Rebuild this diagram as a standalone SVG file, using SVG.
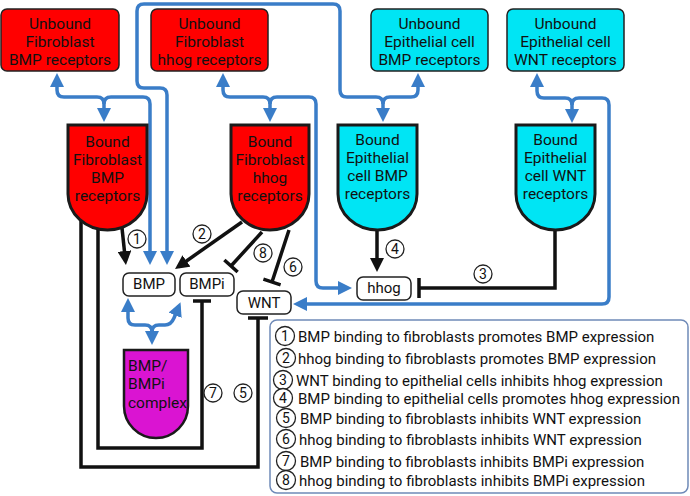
<svg xmlns="http://www.w3.org/2000/svg" width="690" height="496" viewBox="0 0 690 496">
<style>
text{font-family:Roboto,"Liberation Sans",sans-serif;fill:#111;}
.lbl{font-size:15.5px;text-anchor:middle;}
.sm{font-size:15px;text-anchor:middle;}
.leg{font-size:15px;}
.dig{font-size:14px;text-anchor:middle;}
.unb{stroke:#222;stroke-width:1.5;}
.bnd{stroke:#1a1a1a;stroke-width:3;}
.red{fill:#ff0000;}
.cyan{fill:#00e5f4;}
.mol{fill:#fff;stroke:#222;stroke-width:1.5;}
.blue{fill:none;stroke:#3a7dc8;stroke-width:3.5;}
.blk{fill:none;stroke:#111;stroke-width:3.5;}
.circ{fill:#fff;stroke:#222;stroke-width:1.3;}
</style>
<defs>
<marker id="ab" viewBox="0 0 14 14" refX="10" refY="7" markerWidth="14" markerHeight="14" markerUnits="userSpaceOnUse" orient="auto-start-reverse"><path d="M0,0 L14,7 L0,14 z" fill="#3a7dc8"/></marker>
<marker id="ak" viewBox="0 0 14 14" refX="10" refY="7" markerWidth="14" markerHeight="14" markerUnits="userSpaceOnUse" orient="auto"><path d="M0,0 L14,7 L0,14 z" fill="#111"/></marker>
</defs>

<g id="connectors">
<!-- blue binding loops -->
<path class="blue" d="M57,77 V90 Q57,97 64,97 H97 Q104,97 104,104 V118" marker-start="url(#ab)" marker-end="url(#ab)"/>
<path class="blue" d="M104,104 Q104,97 111,97 H143 Q150,97 150,104 V261" marker-end="url(#ab)"/>
<path class="blue" d="M223,77 V90 Q223,97 230,97 H263 Q270,97 270,104 V118" marker-start="url(#ab)" marker-end="url(#ab)"/>
<path class="blue" d="M270,104 Q270,97 277,97 H309 Q316,97 316,104 V281 Q316,288 323,288 H348" marker-end="url(#ab)"/>
<path class="blue" d="M418,77 V90 Q418,97 411,97 H390 Q383,97 383,104 V118" marker-start="url(#ab)" marker-end="url(#ab)"/>
<path class="blue" d="M383,104 Q383,97 376,97 H347 Q340,97 340,90 V11 Q340,4 333,4 H144 Q137,4 137,11 V81 Q137,88 144,88 H160 Q167,88 167,95 V261" marker-end="url(#ab)"/>
<path class="blue" d="M537,77 V91 Q537,98 544,98 H565 Q572,98 572,105 V119" marker-start="url(#ab)" marker-end="url(#ab)"/>
<path class="blue" d="M572,105 Q572,98 579,98 H602 Q609,98 609,105 V297 Q609,304 602,304 H297" marker-end="url(#ab)"/>
<path class="blue" d="M128,302 V318 Q128,325 135,325 H145 Q152,325 152,332 V341" marker-start="url(#ab)" marker-end="url(#ab)"/>
<path class="blue" d="M152,332 Q152,325 159,325 H165 Q171,325 174,318 L179,306" marker-end="url(#ab)"/>
<!-- black regulation -->
<path class="blk" d="M122,228 L125.5,261" marker-end="url(#ak)"/>
<path class="blk" d="M242,222 L178.3,266.7" marker-end="url(#ak)"/>
<path class="blk" d="M377,230 V268" marker-end="url(#ak)"/>
<path class="blk" d="M555,230 V288 H419 M419,278 V298"/>
<path class="blk" d="M262,232 L231,266 M224.35,259.93 L237.65,272.07"/>
<path class="blk" d="M289,230 L272,282 M263.4,279.2 L280.6,284.8"/>
<path class="blk" d="M98,225 V448 H202 V301 M193,301 H211"/>
<path class="blk" d="M81,215 V467 H258 V318 M248,318 H268"/>
<!-- numbered labels -->
<circle class="circ" cx="137" cy="239" r="9"/><text class="dig" x="137" y="244">1</text>
<circle class="circ" cx="202" cy="234" r="9"/><text class="dig" x="202" y="239">2</text>
<circle class="circ" cx="483" cy="274" r="9"/><text class="dig" x="483" y="279">3</text>
<circle class="circ" cx="395" cy="249" r="9"/><text class="dig" x="395" y="254">4</text>
<circle class="circ" cx="243" cy="393" r="9"/><text class="dig" x="243" y="398">5</text>
<circle class="circ" cx="293" cy="267" r="9"/><text class="dig" x="293" y="272">6</text>
<circle class="circ" cx="213" cy="393" r="9"/><text class="dig" x="213" y="398">7</text>
<circle class="circ" cx="263" cy="253" r="9"/><text class="dig" x="263" y="258">8</text>
</g>

<g id="unbound-fib-bmp">
<rect class="unb red" x="1" y="9" width="118" height="62" rx="6"/>
<text class="lbl" x="60" y="29">Unbound</text><text class="lbl" x="60" y="47">Fibroblast</text><text class="lbl" x="60" y="65">BMP receptors</text>
</g>
<g id="unbound-fib-hhog">
<rect class="unb red" x="151" y="9" width="117" height="62" rx="6"/>
<text class="lbl" x="209.5" y="29">Unbound</text><text class="lbl" x="209.5" y="47">Fibroblast</text><text class="lbl" x="209.5" y="65">hhog receptors</text>
</g>
<g id="unbound-epi-bmp">
<rect class="unb cyan" x="371" y="9" width="117" height="62" rx="6"/>
<text class="lbl" x="429.5" y="29">Unbound</text><text class="lbl" x="429.5" y="47">Epithelial cell</text><text class="lbl" x="429.5" y="65">BMP receptors</text>
</g>
<g id="unbound-epi-wnt">
<rect class="unb cyan" x="507" y="9" width="117" height="62" rx="6"/>
<text class="lbl" x="565.5" y="29">Unbound</text><text class="lbl" x="565.5" y="47">Epithelial cell</text><text class="lbl" x="565.5" y="65">WNT receptors</text>
</g>

<g id="bound-fib-bmp">
<path class="bnd red" d="M68,125 H147 V194 A39.5,36 0 0 1 68,194 Z"/>
<text class="lbl" x="107.5" y="147">Bound</text><text class="lbl" x="107.5" y="165">Fibroblast</text><text class="lbl" x="107.5" y="183">BMP</text><text class="lbl" x="107.5" y="201">receptors</text>
</g>
<g id="bound-fib-hhog">
<path class="bnd red" d="M231,125 H309 V194 A39,36 0 0 1 231,194 Z"/>
<text class="lbl" x="270" y="147">Bound</text><text class="lbl" x="270" y="165">Fibroblast</text><text class="lbl" x="270" y="183">hhog</text><text class="lbl" x="270" y="201">receptors</text>
</g>
<g id="bound-epi-bmp">
<path class="bnd cyan" d="M338,125 H417 V194 A39.5,36 0 0 1 338,194 Z"/>
<text class="lbl" x="377.5" y="145">Bound</text><text class="lbl" x="377.5" y="163">Epithelial</text><text class="lbl" x="377.5" y="181">cell BMP</text><text class="lbl" x="377.5" y="199">receptors</text>
</g>
<g id="bound-epi-wnt">
<path class="bnd cyan" d="M516,125 H595 V194 A39.5,36 0 0 1 516,194 Z"/>
<text class="lbl" x="555.5" y="145">Bound</text><text class="lbl" x="555.5" y="163">Epithelial</text><text class="lbl" x="555.5" y="181">cell WNT</text><text class="lbl" x="555.5" y="199">receptors</text>
</g>

<g id="bmp"><rect class="mol" x="123" y="273" width="52" height="23" rx="6"/><text class="sm" x="149" y="288.5">BMP</text></g>
<g id="bmpi"><rect class="mol" x="180" y="273" width="54" height="23" rx="6"/><text class="sm" x="207" y="288.5">BMPi</text></g>
<g id="wnt"><rect class="mol" x="237" y="291" width="54" height="23" rx="6"/><text class="sm" x="264" y="307.5">WNT</text></g>
<g id="hhog"><rect class="mol" x="357" y="277" width="54" height="23" rx="6"/><text class="sm" x="384" y="293">hhog</text></g>

<g id="complex">
<path d="M124,350 H188 V406 A32,32 0 0 1 124,406 Z" fill="#da14d2" stroke="#1a1a1a" stroke-width="2.5"/>
<text class="lbl" x="128" y="370.5" text-anchor="start" style="text-anchor:start">BMP/</text>
<text class="lbl" x="128" y="389" style="text-anchor:start">BMPi</text>
<text class="lbl" x="128" y="407.5" style="text-anchor:start">complex</text>
</g>

<g id="legend">
<rect x="270" y="320" width="418" height="173" rx="7" fill="#fff" stroke="#6f8ab8" stroke-width="1.5"/>
<circle class="circ" cx="285" cy="336" r="9.5"/><text class="dig" x="285" y="341">1</text><text class="leg" x="298" y="341.5">BMP binding to fibroblasts promotes BMP expression</text>
<circle class="circ" cx="286" cy="358" r="9.5"/><text class="dig" x="286" y="363">2</text><text class="leg" x="298" y="363.5">hhog binding to fibroblasts promotes BMP expression</text>
<circle class="circ" cx="283" cy="380" r="9.5"/><text class="dig" x="283" y="385">3</text><text class="leg" x="296" y="385.5">WNT binding to epithelial cells inhibits hhog expression</text>
<circle class="circ" cx="283" cy="398" r="9.5"/><text class="dig" x="283" y="403">4</text><text class="leg" x="298" y="403.5">BMP binding to epithelial cells promotes hhog expression</text>
<circle class="circ" cx="286" cy="418" r="9.5"/><text class="dig" x="286" y="423">5</text><text class="leg" x="300" y="423.5">BMP binding to fibroblasts inhibits WNT expression</text>
<circle class="circ" cx="286" cy="439" r="9.5"/><text class="dig" x="286" y="444">6</text><text class="leg" x="299" y="444.5">hhog binding to fibroblasts inhibits WNT expression</text>
<circle class="circ" cx="286" cy="461" r="9.5"/><text class="dig" x="286" y="466">7</text><text class="leg" x="300" y="466.5">BMP binding to fibroblasts inhibits BMPi expression</text>
<circle class="circ" cx="286" cy="480" r="9.5"/><text class="dig" x="286" y="485">8</text><text class="leg" x="299" y="485.5">hhog binding to fibroblasts inhibits BMPi expression</text>
</g>
</svg>
